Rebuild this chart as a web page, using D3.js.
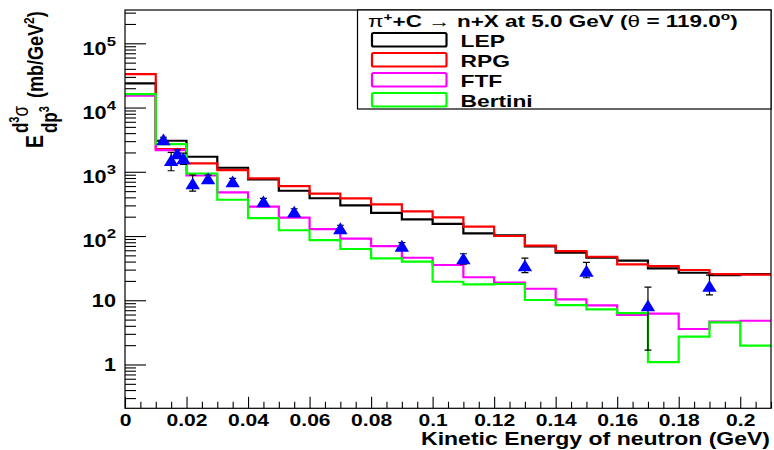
<!DOCTYPE html>
<html><head><meta charset="utf-8">
<script src="https://cdn.jsdelivr.net/npm/d3@7/dist/d3.min.js"></script>
<style>
body{margin:0;background:#fff;}
svg text{font-family:"Liberation Sans",Arial,Helvetica,sans-serif;font-weight:bold;fill:#000;}
</style></head><body>
<svg id="chart" width="774" height="450"></svg>
<script>
// ---------------- data ----------------
const binEdges = [0,0.01,0.02,0.03,0.04,0.05,0.06,0.07,0.08,0.09,0.10,0.11,0.12,0.13,0.14,0.15,0.16,0.17,0.18,0.19,0.20,0.21];
const seriesNames = ["LEP","RPG","FTF","Bertini"];
const seriesColors = ["#000000","#ff0000","#ff00ff","#00ff00"];
const lepValues     = [23800,3040,1714,1156,760,507,387,300,230,182,154,110,102,69,55,46,41.3,31.4,26.8,24.5,25.5];
const rpgValues     = [33200,2260,1352,1064,790,600,456,386,311,242,195,140,100,71,58.4,47.6,36.3,34.1,29.6,25.6,25.0];
const ftfValues     = [15300,2180,875,479,286,193,128,90.8,69.8,45.9,35.4,22.8,18.8,15.1,10.3,8.3,5.9,6.2,3.57,4.64,4.8];
const bertiniValues = [16200,2700,940,367,190,123,86.6,62.8,45,39.8,19.4,17.7,17.9,10.1,8.4,7.2,6.3,1.09,2.71,4.53,1.96];

const dataX    = [0.0125,0.015,0.017,0.019,0.022,0.027,0.035,0.045,0.055,0.070,0.090,0.110,0.130,0.150,0.170,0.190];
const dataY    = [3200,1524,1937,1620,661,791,710,347,239,132,70.6,45,35,28.8,8.34,16.8];
const dataLow  = [2950,1038,1700,1306,501,700,640,310,214,118,63,36.6,27,22.4,1.67,12.1];
const dataHigh = [3450,2010,2200,1950,889,890,790,385,266,147,79,53,45.3,39,16.0,24.6];

const xTickValues = [0,0.02,0.04,0.06,0.08,0.10,0.12,0.14,0.16,0.18,0.20];
const xTickLabels = ["0","0.02","0.04","0.06","0.08","0.1","0.12","0.14","0.16","0.18","0.2"];
const yTickValues = [1,10,100,1000,10000,100000];
const yTickBase   = ["1","10","10","10","10","10"];
const yTickExp    = ["","","2","3","4","5"];

const xTitle = "Kinetic Energy of neutron (GeV)";

// ---------------- layout ----------------
const svg = d3.select("#chart");
const L = 125, R = 771, T = 10, B = 408.3;
const x = d3.scaleLinear().domain([0, 0.21]).range([L, R]);
const y = d3.scaleLog().domain([0.208, 3.3e5]).range([B, T]);
const SX = 1.24; // horizontal text stretch of the original

svg.append("rect").attr("width",774).attr("height",450).attr("fill","#fff");

svg.append("defs").append("clipPath").attr("id","clip")
  .append("rect").attr("x",L).attr("y",T).attr("width",R-L).attr("height",B-T);

// histograms
const allSeries = [lepValues, rpgValues, ftfValues, bertiniValues];
const line = d3.line().x(d=>x(d[0])).y(d=>y(d[1])).curve(d3.curveStepAfter);
const hg = svg.append("g").attr("clip-path","url(#clip)");
allSeries.forEach((vals, si) => {
  const pts = binEdges.map((e,i)=>[e, vals[Math.min(i, vals.length-1)]]);
  hg.append("path").attr("d", line(pts)).attr("fill","none")
    .attr("stroke", seriesColors[si]).attr("stroke-width",2.2);
});

// data points with error bars
const pg = svg.append("g").attr("clip-path","url(#clip)");
dataX.forEach((dx,i)=>{
  const cx = x(dx), y1 = y(dataLow[i]), y2 = y(dataHigh[i]);
  pg.append("line").attr("x1",cx).attr("x2",cx).attr("y1",y1).attr("y2",y2).attr("stroke","#000").attr("stroke-width",1.2);
  [y1,y2].forEach(yy=>pg.append("line").attr("x1",cx-3.5).attr("x2",cx+3.5).attr("y1",yy).attr("y2",yy).attr("stroke","#000").attr("stroke-width",1.2));
});
dataX.forEach((dx,i)=>{
  pg.append("path").attr("transform",`translate(${x(dx)},${y(dataY[i])})`)
    .attr("d","M0,-5.9L7.2,5.9L-7.2,5.9Z").attr("fill","#0000ff");
});

// frame
svg.append("rect").attr("x",L).attr("y",T).attr("width",R-L).attr("height",B-T)
  .attr("fill","none").attr("stroke","#000").attr("stroke-width",1.2);

// x axis
const xMinor = d3.range(0, 0.2101, 0.005).filter(v => xTickValues.every(t=>Math.abs(t-v)>1e-9));
svg.append("g").attr("transform",`translate(0,${B})`)
  .call(d3.axisTop(x).tickValues(xMinor).tickSize(6.5).tickFormat(""))
  .call(g=>g.select(".domain").remove())
  .call(g=>g.selectAll("line").attr("stroke","#000").attr("stroke-width",1.1));
svg.append("g").attr("transform",`translate(0,${B})`)
  .call(d3.axisTop(x).tickValues(xTickValues).tickSize(11.5).tickFormat((d,i)=>xTickLabels[i]))
  .call(g=>g.select(".domain").remove())
  .call(g=>g.selectAll("line").attr("stroke","#000").attr("stroke-width",1.1))
  .call(g=>g.selectAll("text").attr("y",0).attr("dy",0).attr("fill","#000")
      .attr("font-size",17).attr("transform",`translate(0,17.5) scale(${SX},1)`));

// y axis
const yMinor = [];
for (let k=-1;k<=5;k++) for (let m=2;m<=9;m++){ const v=m*Math.pow(10,k); if(v>=0.208 && v<=3.3e5) yMinor.push(v); }
svg.append("g").attr("transform",`translate(${L},0)`)
  .call(d3.axisRight(y).tickValues(yMinor).tickSize(11).tickFormat(""))
  .call(g=>g.select(".domain").remove())
  .call(g=>g.selectAll("line").attr("stroke","#000").attr("stroke-width",1.1));
const yAx = svg.append("g").attr("transform",`translate(${L},0)`)
  .call(d3.axisRight(y).tickValues(yTickValues).tickSize(21).tickFormat(""))
  .call(g=>g.select(".domain").remove())
  .call(g=>g.selectAll("line").attr("stroke","#000").attr("stroke-width",1.1));
yAx.selectAll(".tick").each(function(d,i){
  const t = d3.select(this).select("text");
  t.text(null).attr("x",0).attr("dy",0).attr("fill","#000").attr("text-anchor","end")
   .attr("font-size",17.5);
  if (yTickExp[i]) {
    t.attr("transform",`translate(-9,10.7) scale(${SX},1)`);
    t.append("tspan").text(yTickBase[i]);
    t.append("tspan").attr("font-size",13.5).attr("dy",-9).text(yTickExp[i]);
  } else {
    t.attr("transform",`translate(-9,6.3) scale(${SX},1)`);
    t.append("tspan").text(yTickBase[i]);
  }
});

// x title
const xt = svg.append("text").attr("text-anchor","end").attr("font-size",17.5).text(xTitle)
  .attr("transform","translate(770,445)");
const xtw = xt.node().getComputedTextLength();
xt.attr("transform",`translate(770,445) scale(${349/xtw},1)`);

// y title (rotated)
const yt = svg.append("g").attr("transform",`translate(43,148) scale(1.25,1) rotate(-90)`);
yt.append("text").attr("x",0).attr("y",0).attr("font-size",19.5).text("E");
const num = yt.append("text").attr("x",15).attr("y",-12).attr("font-size",17);
num.append("tspan").text("d");
num.append("tspan").attr("font-size",11).attr("dy",-7).text("3");
num.append("tspan").attr("dy",7).attr("font-weight","normal").text("σ");
const den = yt.append("text").attr("x",15).attr("y",11.5).attr("font-size",17);
den.append("tspan").text("dp");
den.append("tspan").attr("font-size",11).attr("dy",-7).text("3");
const unit = yt.append("text").attr("x",50).attr("y",0).attr("font-size",18);
unit.append("tspan").text("(mb/GeV");
unit.append("tspan").attr("font-size",12).attr("dy",-7).text("2");
unit.append("tspan").attr("dy",7).text(")");

// legend
const lg = svg.append("g");
lg.append("rect").attr("x",357.5).attr("y",T).attr("width",R-357.5).attr("height",99)
  .attr("fill","#fff").attr("stroke","#000").attr("stroke-width",1.2);
const lt = lg.append("text").attr("font-size",16);
lt.append("tspan").attr("font-weight","normal").text("π");
lt.append("tspan").attr("font-size",11).attr("dy",-6).text("+");
lt.append("tspan").attr("dy",6).text("+C ");
lt.append("tspan").attr("font-weight","normal").text("→");
lt.append("tspan").text(" n+X at 5.0 GeV (");
lt.append("tspan").attr("font-weight","normal").text("θ");
lt.append("tspan").text(" = 119.0");
lt.append("tspan").attr("font-size",11).attr("dy",-7).text("o");
lt.append("tspan").attr("dy",7).text(")");
const ltw = lt.node().getComputedTextLength();
lt.attr("transform",`translate(368,27) scale(${370/ltw},1)`);
seriesNames.forEach((name,i)=>{
  const ry = 33 + i*20;
  lg.append("rect").attr("x",372).attr("y",ry).attr("width",74.5).attr("height",13.5).attr("rx",1.5)
    .attr("fill","none").attr("stroke",seriesColors[i]).attr("stroke-width",2.2);
  lg.append("text").attr("font-size",16.3).text(name)
    .attr("transform",`translate(460.5,${ry+13.8}) scale(1.4,1)`);
});
</script>
</body></html>
